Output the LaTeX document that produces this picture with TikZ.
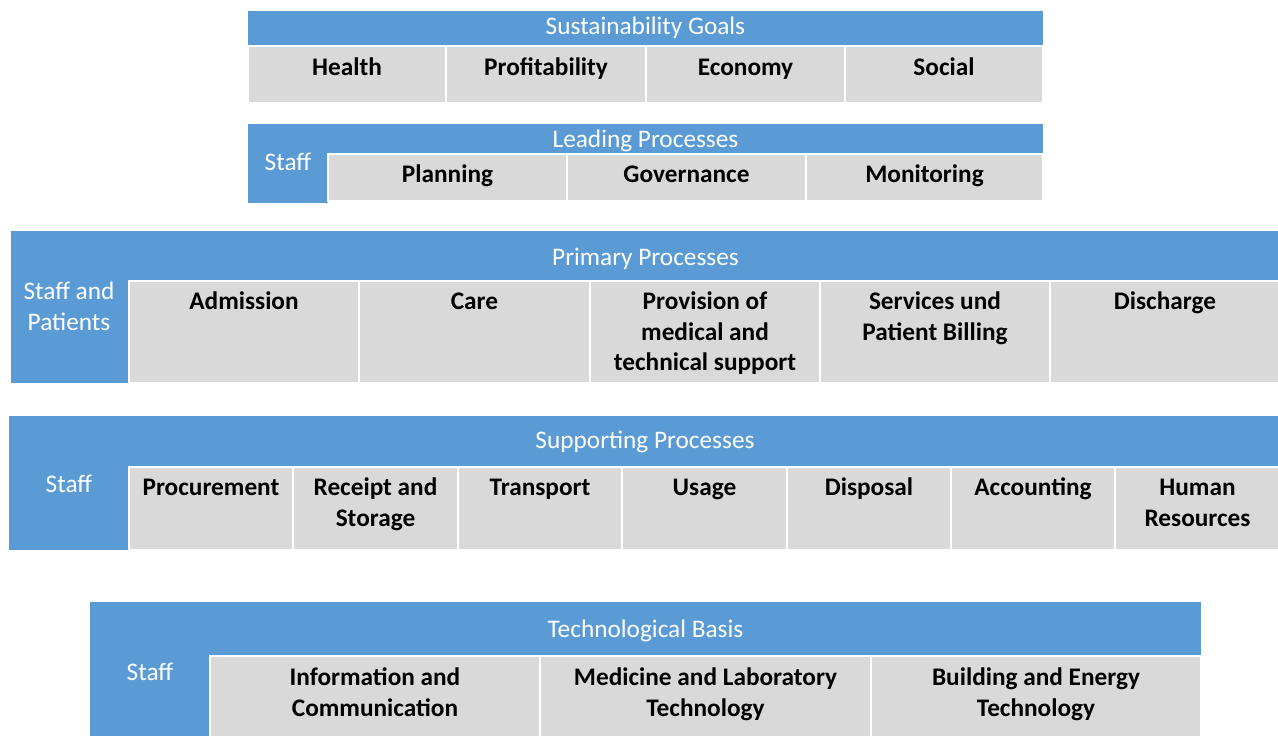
\documentclass[tikz,border=0pt]{standalone}
\usepackage{fontspec}
\setmainfont{Carlito}
\usetikzlibrary{fit}
\definecolor{hdrblue}{HTML}{5B9BD5}
\definecolor{cellgray}{HTML}{D9D9D9}
\tikzset{
  panel/.style={fill=hdrblue, inner sep=0pt, outer sep=0pt},
  cellbox/.style={fill=cellgray, draw=white, line width=1.3pt, inner sep=0pt, outer sep=0pt},
  hdr/.style={text=white, font=\fontsize{25.3}{30.5}\selectfont, align=center, inner sep=0pt, anchor=north},
  lbl/.style={text=black, font=\bfseries\fontsize{25.3}{30.5}\selectfont, align=center, inner sep=0pt, anchor=north},
}
% a filled rectangle node spanning two corners: style, name, x1, y1, x2, y2
\newcommand\tile[6]{\node[#1, fit={(#3,#4) (#5,#6)}] (#2) {};}
\begin{document}
\begin{tikzpicture}[x=1pt, y=-1pt]
\useasboundingbox (0,0) rectangle (1278,736);

% ---- Sustainability goals
\tile{panel}{sgpanel}{248}{11}{1043}{45}
\node[hdr] (sghead) at (645.5,13) {\strut Sustainability Goals};
\foreach \n/\a/\b/\t in {sg1/248/446/Health, sg2/446/646/Profitability, sg3/646/845/Economy, sg4/845/1043/Social}{
  \tile{cellbox}{\n}{\a}{46}{\b}{103}
  \node[lbl] (\n-t) at ([yshift=-8pt]\n.north) {\strut \t};
}

% ---- Leading processes
\tile{panel}{lppanel}{248}{124}{1043}{201}
\tile{panel}{lpside}{248}{150}{328}{203}
\node[hdr] (lphead) at (645.5,126) {\strut Leading Processes};
\node[hdr] (lpstaff) at (288,149) {\strut Staff};
\foreach \n/\a/\b/\t in {lp1/328/567/Planning, lp2/567/806/Governance, lp3/806/1043/Monitoring}{
  \tile{cellbox}{\n}{\a}{154}{\b}{201}
  \node[lbl] (\n-t) at ([yshift=-7pt]\n.north) {\strut \t};
}

% ---- Primary processes
\tile{panel}{pppanel}{11}{231}{1278}{383}
\node[hdr] (pphead) at (645.5,244) {\strut Primary Processes};
\node[hdr] (ppstaff) at (69,278) {\strut Staff and\\Patients};
\foreach \n/\a/\b/\t in {pp1/129/359/Admission, pp2/359/590/Care,
  pp3/590/820/{Provision of\\medical and\\technical support},
  pp4/820/1050/{Services und\\Patient Billing}, pp5/1050/1280/Discharge}{
  \tile{cellbox}{\n}{\a}{281}{\b}{383}
  \node[lbl] (\n-t) at ([yshift=-7pt]\n.north) {\strut \t};
}

% ---- Supporting processes
\tile{panel}{sppanel}{9}{416}{1278}{550}
\node[hdr] (sphead) at (645,427) {\strut Supporting Processes};
\node[hdr] (spstaff) at (69,471) {\strut Staff};
\foreach \n/\a/\b/\t in {sp1/129/293/Procurement, sp2/293/458/{Receipt and\\Storage},
  sp3/458/622/Transport, sp4/622/787/Usage, sp5/787/951/Disposal,
  sp6/951/1115/Accounting, sp7/1115/1280/{Human\\Resources}}{
  \tile{cellbox}{\n}{\a}{467}{\b}{550}
  \node[lbl] (\n-t) at ([yshift=-7pt]\n.north) {\strut \t};
}

% ---- Technological basis
\tile{panel}{tbpanel}{90}{602}{1201}{740}
\node[hdr] (tbhead) at (645.5,616) {\strut Technological Basis};
\node[hdr] (tbstaff) at (150,659) {\strut Staff};
\foreach \n/\a/\b/\t in {tb1/210/540/{Information and\\Communication},
  tb2/540/871/{Medicine and Laboratory\\Technology}, tb3/871/1201/{Building and Energy\\Technology}}{
  \tile{cellbox}{\n}{\a}{656}{\b}{745}
  \node[lbl] (\n-t) at ([yshift=-8pt]\n.north) {\strut \t};
}
\end{tikzpicture}
\end{document}
